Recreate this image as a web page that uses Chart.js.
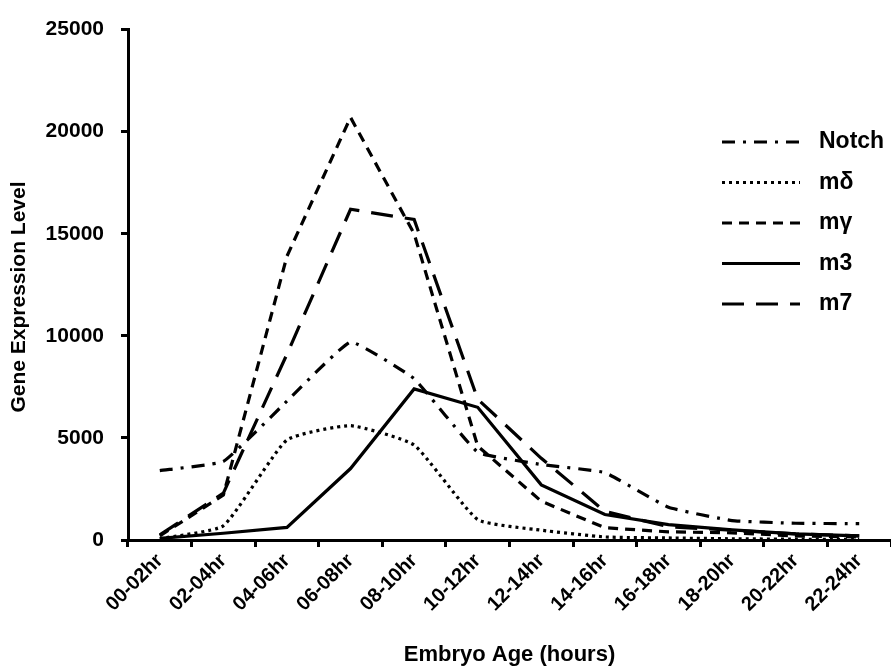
<!DOCTYPE html>
<html>
<head>
<meta charset="utf-8">
<script src="https://cdn.jsdelivr.net/npm/chart.js@4/dist/chart.umd.min.js"></script>
<style>
html,body{margin:0;padding:0;background:#fff;}
#wrap{width:891px;height:669px;}
</style>
</head>
<body>
<div id="wrap"><canvas id="c" width="891" height="669"></canvas></div>
<script>
const categories = ['00-02hr','02-04hr','04-06hr','06-08hr','08-10hr','10-12hr','12-14hr','14-16hr','16-18hr','18-20hr','20-22hr','22-24hr'];
const notch  = [3400, 3850, 6800, 9700, 7900, 4300, 3700, 3300, 1600, 950, 820, 800];
const mDelta = [60, 700, 4900, 5600, 4650, 1000, 480, 150, 100, 60, 40, 30];
const mGamma = [200, 2200, 13900, 20700, 15000, 4600, 1900, 600, 400, 350, 200, 150];
const m3     = [80, 330, 620, 3500, 7400, 6500, 2700, 1250, 750, 500, 300, 200];
const m7     = [250, 2300, 9100, 16200, 15700, 6900, 4000, 1400, 650, 480, 300, 200];
const yTicks = [0, 5000, 10000, 15000, 20000, 25000];
const seriesLabels = ['Notch', 'm\u03B4', 'm\u03B3', 'm3', 'm7'];
const yTitle = 'Gene Expression Level';
const xTitle = 'Embryo Age (hours)';

const FONT = '"Liberation Sans", Arial, sans-serif';

const legendPlugin = {
  id: 'customLegend',
  afterDraw(chart) {
    const ctx = chart.ctx;
    const x0 = 722, x1 = 800, tx = 819, y0 = 142, dy = 40.5;
    chart.data.datasets.forEach((ds, i) => {
      const y = y0 + i * dy;
      ctx.save();
      ctx.strokeStyle = '#000';
      ctx.lineWidth = ds.borderWidth;
      ctx.setLineDash(ds.borderDash || []);
      ctx.beginPath();
      ctx.moveTo(x0, y);
      ctx.lineTo(x1, y);
      ctx.stroke();
      ctx.setLineDash([]);
      ctx.fillStyle = '#000';
      ctx.font = 'bold 23px ' + FONT;
      ctx.textBaseline = 'middle';
      ctx.textAlign = 'left';
      ctx.fillText(ds.label, tx, y);
      ctx.restore();
    });
    // y-axis title
    ctx.save();
    ctx.translate(19, 297);
    ctx.rotate(-Math.PI / 2);
    ctx.fillStyle = '#000';
    ctx.font = 'bold 21px ' + FONT;
    ctx.textAlign = 'center';
    ctx.textBaseline = 'middle';
    ctx.fillText(yTitle, 0, 0);
    ctx.restore();
  }
};

const mk = (label, data, dash, tension) => ({
  label, data,
  borderColor: '#000', backgroundColor: '#000',
  borderWidth: 3.2, borderDash: dash, borderCapStyle: 'butt',
  pointRadius: 0, tension: tension, fill: false
});

new Chart(document.getElementById('c'), {
  type: 'line',
  data: {
    labels: categories,
    datasets: [
      mk(seriesLabels[0], notch, [13, 8, 3, 8], 0.1),
      mk(seriesLabels[1], mDelta, [3, 4], 0.15),
      mk(seriesLabels[2], mGamma, [10, 7], 0),
      mk(seriesLabels[3], m3, [], 0),
      mk(seriesLabels[4], m7, [22, 12], 0)
    ]
  },
  options: {
    responsive: false,
    animation: false,
    layout: { padding: { top: 17, right: 0, left: 0, bottom: 0 } },
    plugins: { legend: { display: false }, tooltip: { enabled: false } },
    scales: {
      x: {
        type: 'category',
        offset: true,
        afterFit: s => { s.height = 129; },
        grid: { display: true, offset: true, drawOnChartArea: false, drawTicks: true, tickLength: 7, color: '#000', lineWidth: 3 },
        border: { display: true, color: '#000', width: 3 },
        ticks: { color: '#000', font: { family: FONT, size: 20, weight: 'bold' }, minRotation: 45, maxRotation: 45, padding: 2, autoSkip: false },
        title: { display: true, text: xTitle, color: '#000', font: { family: FONT, size: 22, weight: 'bold' }, padding: { top: 0, bottom: 1 } }
      },
      y: {
        min: 0, max: 25000,
        afterFit: s => { s.width = 128; },
        afterBuildTicks: s => { s.ticks = yTicks.map(v => ({ value: v })); },
        grid: { display: true, drawOnChartArea: false, drawTicks: true, tickLength: 7, color: '#000', lineWidth: 3 },
        border: { display: true, color: '#000', width: 3 },
        ticks: { color: '#000', font: { family: FONT, size: 21, weight: 'bold' }, padding: 17, callback: v => String(v) },
        title: { display: false }
      }
    }
  },
  plugins: [legendPlugin]
});
</script>
</body>
</html>
